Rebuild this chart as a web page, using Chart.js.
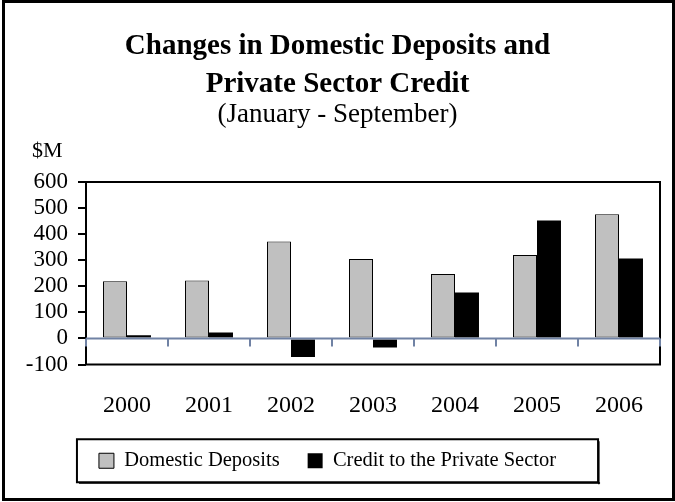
<!DOCTYPE html>
<html>
<head>
<meta charset="utf-8">
<script src="https://cdn.jsdelivr.net/npm/chart.js@4/dist/chart.umd.min.js"></script>
<style>
  body { margin: 0; background: #fff; }
  canvas { display: block; }
</style>
</head>
<body>
<canvas id="myChart" width="675" height="502"></canvas>
<script>
const years = ['2000', '2001', '2002', '2003', '2004', '2005', '2006'];
const domesticDeposits = [219, 222, 372, 305, 247, 320, 476];
const privateCredit = [12, 23, -71, -35, 176, 452, 307];
const yTicks = [-100, 0, 100, 200, 300, 400, 500, 600];

const serif = '"Liberation Serif", "Times New Roman", serif';
const axisBlue = '#7082a4';

// frame, zero line, legend box, "$M" label
const decorations = {
    id: 'decorations',
    afterLayout(chart) {
        // legend items sit a little left of centre in the original
        chart.legend.left -= 10;
        chart.legend.right -= 10;
    },
    afterDatasetsDraw(chart) {
        const ctx = chart.ctx;
        const area = chart.chartArea;
        const x = chart.scales.x;
        const y = chart.scales.y;
        const zeroY = y.getPixelForValue(0);

        ctx.save();
        ctx.strokeStyle = '#000';
        ctx.lineWidth = 2;
        ctx.strokeRect(area.left, area.top, area.right - area.left, area.bottom - area.top);

        ctx.strokeStyle = axisBlue;
        ctx.lineWidth = 2;
        ctx.beginPath();
        ctx.moveTo(area.left, zeroY);
        ctx.lineTo(area.right, zeroY);
        for (let i = 0; i <= years.length; i++) {
            let bx;
            if (i === 0) bx = area.left;
            else if (i === years.length) bx = area.right;
            else bx = (x.getPixelForValue(i - 1) + x.getPixelForValue(i)) / 2;
            ctx.moveTo(bx, zeroY);
            ctx.lineTo(bx, zeroY + 8);
        }
        ctx.stroke();
        ctx.restore();
    },
    afterDraw(chart) {
        const ctx = chart.ctx;
        const area = chart.chartArea;
        ctx.save();

        // outer border
        ctx.strokeStyle = '#000';
        ctx.lineWidth = 3;
        ctx.strokeRect(3.5, 1.5, chart.width - 5, chart.height - 4);

        // legend box
        const boxes = chart.legend.legendHitBoxes;
        if (boxes && boxes.length) {
            const first = boxes[0];
            const last = boxes[boxes.length - 1];
            const mid = first.top + first.height / 2;
            const lx = first.left - 22;
            const rx = last.left + last.width + 42;
            const ty = mid - 21.5;
            const by = mid + 21.5;
            ctx.fillStyle = '#000';
            ctx.fillRect(lx + 2, by, rx - lx, 1.5);
            ctx.fillRect(rx, ty + 2, 1.5, by - ty);
            ctx.lineWidth = 2;
            ctx.strokeRect(lx, ty, rx - lx, by - ty);
        }

        // unit label
        ctx.fillStyle = '#000';
        ctx.font = '22px ' + serif;
        ctx.textAlign = 'left';
        ctx.textBaseline = 'middle';
        ctx.fillText('$M', area.left - 54, area.top - 31);
        ctx.restore();
    }
};

const ctx = document.getElementById('myChart').getContext('2d');
new Chart(ctx, {
    type: 'bar',
    data: {
        labels: years,
        datasets: [{
            label: 'Domestic Deposits',
            data: domesticDeposits,
            backgroundColor: '#c0c0c0',
            borderColor: '#000',
            borderWidth: 1,
            borderSkipped: false,
            barPercentage: 1,
            categoryPercentage: 0.585
        }, {
            label: 'Credit to the Private Sector',
            data: privateCredit,
            backgroundColor: '#000',
            borderColor: '#000',
            borderWidth: 0,
            barPercentage: 1,
            categoryPercentage: 0.585
        }]
    },
    options: {
        responsive: false,
        animation: false,
        layout: {
            padding: { left: 15, right: 15, top: 28, bottom: 21 }
        },
        plugins: {
            title: {
                display: true,
                text: ['Changes in Domestic Deposits and', 'Private Sector Credit'],
                color: '#000',
                font: { family: serif, size: 29, weight: 'bold', lineHeight: 38 / 29 },
                padding: { top: 0, bottom: 0 }
            },
            subtitle: {
                display: true,
                text: '(January - September)',
                color: '#000',
                font: { family: serif, size: 27, lineHeight: 20 / 27 },
                padding: { top: 1, bottom: 57 }
            },
            legend: {
                position: 'bottom',
                labels: {
                    color: '#000',
                    font: { family: serif, size: 20.5 },
                    boxWidth: 15,
                    boxHeight: 15,
                    padding: 28
                }
            },
            tooltip: { enabled: false }
        },
        scales: {
            x: {
                grid: { display: false },
                border: { display: false },
                ticks: {
                    color: '#000',
                    font: { family: serif, size: 24 },
                    padding: 19
                },
                afterFit(scale) { scale.height = 58; }
            },
            y: {
                min: -100,
                max: 600,
                afterBuildTicks(scale) { scale.ticks = yTicks.map(v => ({ value: v })); },
                grid: {
                    drawOnChartArea: false,
                    drawTicks: true,
                    tickLength: 8,
                    color: '#000',
                    lineWidth: 2
                },
                border: { display: false },
                ticks: {
                    color: '#000',
                    font: { family: serif, size: 23 },
                    padding: 10,
                    autoSkip: false
                },
                afterFit(scale) { scale.width = 71; }
            }
        }
    },
    plugins: [decorations]
});
</script>
</body>
</html>
